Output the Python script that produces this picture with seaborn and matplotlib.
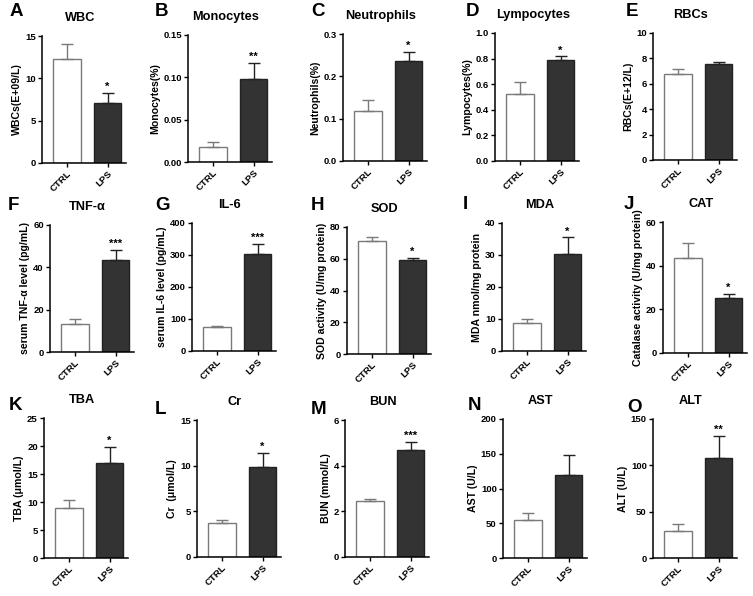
import numpy as np
import matplotlib
matplotlib.use('Agg')
import matplotlib.pyplot as plt
import seaborn as sns

# Data (mean, SEM)
letters = ['A', 'B', 'C', 'D', 'E', 'F', 'G', 'H', 'I', 'J', 'K', 'L', 'M', 'N', 'O']
titles = ['WBC', 'Monocytes', 'Neutrophils', 'Lympocytes', 'RBCs',
          'TNF-α', 'IL-6', 'SOD', 'MDA', 'CAT',
          'TBA', 'Cr', 'BUN', 'AST', 'ALT']
ylabels = ['WBCs(E+09/L)', 'Monocytes(%)', 'Neutrophils(%)', 'Lympocytes(%)', 'RBCs(E+12/L)',
           'serum TNF-α level (pg/mL)', 'serum IL-6 level (pg/mL)', 'SOD activity (U/mg protein)',
           'MDA nmol/mg protein', 'Catalase activity (U/mg protein)',
           'TBA (μmol/L)', 'Cr  (μmol/L)', 'BUN (mmol/L)', 'AST (U/L)', 'ALT (U/L)']
groups = ['CTRL', 'LPS']
ctrl_mean = [12.3, 0.018, 0.118, 0.52, 6.8, 13.0, 75, 71, 8.7, 43.3, 8.9, 3.7, 2.45, 54, 29]
ctrl_err = [1.8, 0.006, 0.025, 0.10, 0.4, 2.5, 4, 3, 1.3, 6.9, 1.5, 0.4, 0.1, 11, 8]
lps_mean = [7.1, 0.098, 0.237, 0.79, 7.55, 43.3, 302, 59.5, 30.3, 25.0, 16.9, 9.8, 4.7, 120, 108]
lps_err = [1.2, 0.019, 0.021, 0.03, 0.15, 5.0, 33, 1.0, 5.3, 2.2, 3.0, 1.6, 0.35, 28, 24]
ymax = [15, 0.15, 0.3, 1.0, 10, 60, 400, 80, 40, 60, 25, 15, 6, 200, 150]
ystep = [5, 0.05, 0.1, 0.2, 2, 20, 100, 20, 10, 20, 5, 5, 2, 50, 50]
stars = ['*', '**', '*', '*', '', '***', '***', '*', '*', '*', '*', '*', '***', '', '**']

# axes placement in pixels: y-axis x, top y, bottom y
ax_px = [(42, 36, 163), (188, 35, 162), (343, 34, 161), (495, 33, 161), (653, 33, 160),
         (50, 225, 352), (192, 223, 351), (347, 227, 354), (502, 223, 351), (663, 222, 353),
         (44, 418, 558), (197, 420, 557), (345, 420, 557), (503, 419, 558), (653, 419, 558)]
letter_px = [(10, 12), (155, 11), (311, 11), (466, 12), (626, 12),
             (8, 206), (155, 206), (311, 206), (463, 204), (624, 204),
             (9, 406), (155, 409), (311, 409), (468, 406), (627, 408)]

W, H = 753, 596
sns.set_style('ticks')
plt.rcParams['font.family'] = ['Liberation Sans', 'DejaVu Sans']
plt.rcParams['font.weight'] = 'bold'
plt.rcParams['axes.labelweight'] = 'bold'
for key in ['text.color', 'axes.labelcolor', 'xtick.color', 'ytick.color', 'axes.edgecolor']:
    plt.rcParams[key] = 'black'

fig = plt.figure(figsize=(W / 100, H / 100), dpi=100)
axw = 84
bar_colors = ['white', '#333333']
edge_colors = ['#7a7a7a', '#222222']

for i in range(15):
    x0, top, bot = ax_px[i]
    ax = fig.add_axes([x0 / W, (H - bot) / H, axw / W, (bot - top) / H])
    means = [ctrl_mean[i], lps_mean[i]]
    errs = [ctrl_err[i], lps_err[i]]
    sns.barplot(x=groups, y=means, hue=groups, palette=bar_colors, legend=False,
                width=0.68, ax=ax, linewidth=1.0, edgecolor=None)
    for p, ec in zip(ax.patches, edge_colors):
        p.set_edgecolor(ec)
    for j in range(2):
        ax.errorbar(j, means[j], yerr=[[0], [errs[j]]], fmt='none',
                    ecolor=edge_colors[j], elinewidth=1.0, capsize=4.5, capthick=1.0, zorder=1)
    if stars[i]:
        ax.text(1, means[1] + errs[1] + ymax[i] * 0.005, stars[i], ha='center', va='bottom',
                fontsize=8, fontweight='bold')
    ax.set_xlim(-0.6, 1.45)
    ax.set_ylim(0, ymax[i])
    ax.set_yticks(np.arange(0, ymax[i] + ystep[i] / 2, ystep[i]))
    ax.tick_params(axis='both', labelsize=6.8, width=1.0, length=3, pad=1.5)
    ax.set_xticks([0, 1])
    ax.set_xticklabels(groups, rotation=45, ha='right', rotation_mode='anchor', fontweight='bold')
    for lab in ax.get_yticklabels():
        lab.set_fontweight('bold')
    ax.set_ylabel(ylabels[i], fontsize=7.6, labelpad=2)
    ax.set_xlabel('')
    ax.set_title(titles[i], fontsize=9.2, fontweight='bold', pad=11, x=0.45)
    sns.despine(ax=ax)
    for s in ['left', 'bottom']:
        ax.spines[s].set_linewidth(1.1)
    lx, ly = letter_px[i]
    fig.text(lx / W, 1 - ly / H, letters[i], fontsize=13.5, fontweight='bold',
             ha='left', va='center')

fig.savefig('out.png', dpi=100)
